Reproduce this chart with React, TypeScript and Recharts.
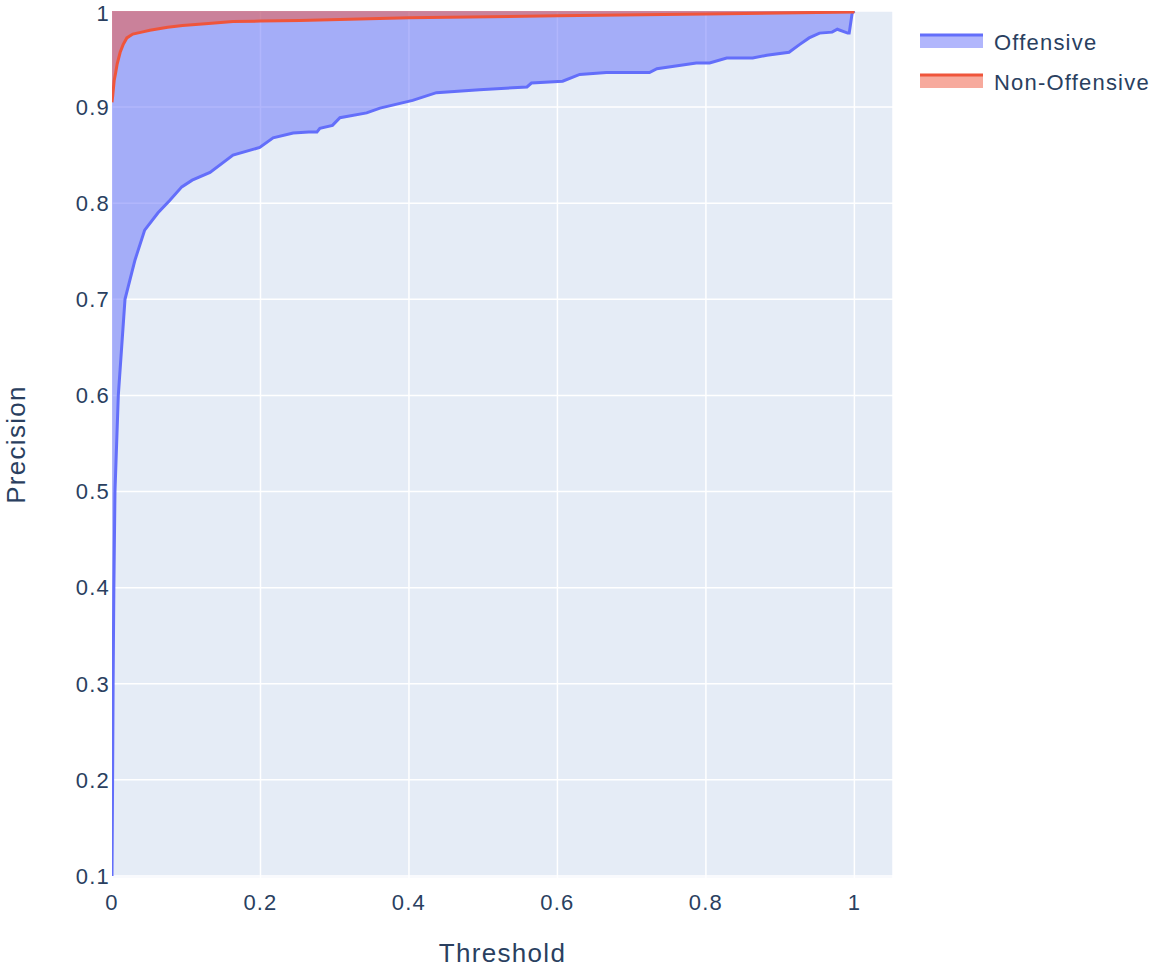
import React from "react";
import { ComposedChart, Area, XAxis, YAxis, CartesianGrid } from "recharts";

const offensiveX = [0, 0.0004, 0.0008, 0.0015, 0.0025, 0.004, 0.0085, 0.0175, 0.031, 0.044, 0.062, 0.078, 0.094, 0.108, 0.132, 0.163, 0.199, 0.217, 0.244, 0.265, 0.276, 0.28, 0.297, 0.307, 0.343, 0.361, 0.405, 0.437, 0.495, 0.559, 0.565, 0.607, 0.63, 0.666, 0.711, 0.724, 0.734, 0.787, 0.805, 0.828, 0.863, 0.882, 0.912, 0.926, 0.939, 0.953, 0.97, 0.977, 0.991, 0.993, 0.997, 1.0];
const offensiveY = [0.1, 0.15, 0.2, 0.3, 0.4, 0.5, 0.6, 0.7, 0.741, 0.772, 0.79, 0.803, 0.817, 0.824, 0.832, 0.85, 0.858, 0.868, 0.873, 0.874, 0.874, 0.878, 0.881, 0.889, 0.894, 0.899, 0.907, 0.915, 0.918, 0.921, 0.925, 0.927, 0.934, 0.936, 0.936, 0.936, 0.94, 0.946, 0.946, 0.951, 0.951, 0.954, 0.957, 0.965, 0.972, 0.977, 0.978, 0.981, 0.977, 0.977, 0.998, 1.0];

const nonOffensiveX = [0, 0.001, 0.003, 0.005, 0.007, 0.011, 0.015, 0.02, 0.028, 0.04, 0.051, 0.075, 0.095, 0.13, 0.163, 0.2, 0.253, 0.4, 0.6, 0.8, 1.0];
const nonOffensiveY = [0.905, 0.912, 0.928, 0.936, 0.945, 0.957, 0.965, 0.972, 0.976, 0.978, 0.98, 0.983, 0.985, 0.987, 0.989, 0.9895, 0.99, 0.993, 0.995, 0.997, 0.999];

const xTicks = [0, 0.2, 0.4, 0.6, 0.8, 1];
const yTicks = [0.1, 0.2, 0.3, 0.4, 0.5, 0.6, 0.7, 0.8, 0.9, 1];

const seriesNames = ["Offensive", "Non-Offensive"];
const seriesColors = ["#636efa", "#ef553b"];

const offensiveData = offensiveX.map((x, i) => ({ x, y: offensiveY[i] }));
const nonOffensiveData = nonOffensiveX.map((x, i) => ({ x, y: nonOffensiveY[i] }));

const FONT = "'Liberation Sans', Arial, sans-serif";
const TEXT = "#2a3f5f";
const LS = 1.2;

export default function App() {
  return (
    <div style={{ position: "absolute", left: 0, top: 0, width: 1155, height: 968, background: "#fff", fontFamily: FONT }}>
      <ComposedChart
        width={1155}
        height={968}
        margin={{ top: 11, right: 262, bottom: 60, left: 52 }}
      >
        <CartesianGrid stroke="#ffffff" strokeWidth={1.5} horizontal={true} vertical={true} fill="#e5ecf6" fillOpacity={1} />
        <XAxis
          type="number"
          dataKey="x"
          domain={[0, 1.052]}
          ticks={xTicks}
          allowDataOverflow
          axisLine={false}
          tickLine={false}
          tickSize={0}
          tickMargin={16}
          height={30}
          tick={{ fill: TEXT, fontSize: 22, fontFamily: FONT, letterSpacing: LS }}
          tickFormatter={(v: number) => String(v)}
          label={{ value: "Threshold", position: "insideBottom", offset: -54, fill: TEXT, fontSize: 26, fontFamily: FONT, letterSpacing: 1.3 }}
        />
        <YAxis
          type="number"
          dataKey="y"
          domain={[0.0979, 1]}
          ticks={yTicks}
          allowDataOverflow
          axisLine={false}
          tickLine={false}
          tickSize={0}
          tickMargin={2}
          width={60}
          tick={{ fill: TEXT, fontSize: 22, fontFamily: FONT, letterSpacing: LS }}
          tickFormatter={(v: number) => String(Math.round(v * 10) / 10)}
          label={{ value: "Precision", angle: -90, position: "center", dx: -66, fill: TEXT, fontSize: 26, fontFamily: FONT, letterSpacing: 1.3 }}
        />
        <Area
          data={offensiveData}
          dataKey="y"
          type="linear"
          baseValue={1}
          stroke={seriesColors[0]}
          strokeWidth={3}
          fill={seriesColors[0]}
          fillOpacity={0.5}
          isAnimationActive={false}
          dot={false}
          activeDot={false}
        />
        <Area
          data={nonOffensiveData}
          dataKey="y"
          type="linear"
          baseValue={1}
          stroke={seriesColors[1]}
          strokeWidth={3}
          fill={seriesColors[1]}
          fillOpacity={0.5}
          isAnimationActive={false}
          dot={false}
          activeDot={false}
        />
      </ComposedChart>
      <svg style={{ position: "absolute", left: 900, top: 20 }} width={255} height={90}>
        {seriesNames.map((name, i) => (
          <g key={name} transform={`translate(0, ${i * 40})`}>
            <rect x={20} y={15} width={63} height={13} fill={seriesColors[i]} fillOpacity={0.5} />
            <line x1={20} x2={83} y1={15} y2={15} stroke={seriesColors[i]} strokeWidth={3} />
            <text x={94} y={22} dy="0.35em" fill={TEXT} fontSize={22} fontFamily={FONT} letterSpacing={LS}>{name}</text>
          </g>
        ))}
      </svg>
    </div>
  );
}
